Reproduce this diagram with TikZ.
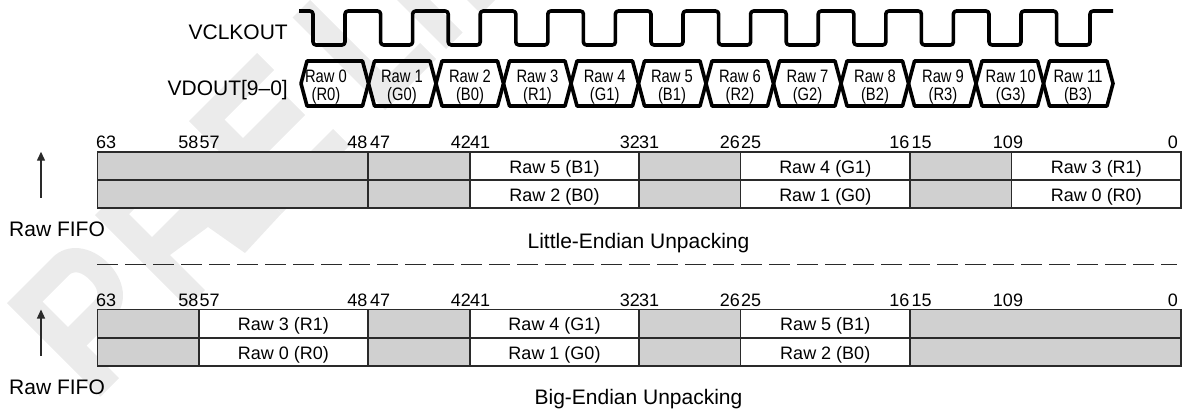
\documentclass[tikz,border=0pt]{standalone}
\usepackage{fontspec}
\setmainfont{Liberation Sans}
\newfontfamily\narrowsans[FakeStretch=0.82]{Liberation Sans}
\usetikzlibrary{arrows.meta}
\definecolor{wmgray}{HTML}{EBEBEB}
\definecolor{cellgray}{HTML}{D0D0D0}
\definecolor{rulegray}{HTML}{2A2A2A}
\tikzset{
  wm/.style={fill=wmgray,draw=none,even odd rule},
  cellbase/.style={draw=rulegray,line width=1.5pt,inner sep=0pt,outer sep=0pt,
    minimum height=#1,text height=14pt,text depth=0pt,font=\fontsize{18}{18}\selectfont},
  cellblank/.style={cellbase=#1,fill=white},
  cellfill/.style={cellbase=#1,fill=cellgray},
  bitlow/.style={anchor=base west,inner sep=0pt,font=\fontsize{18}{18}\selectfont},
  bithigh/.style={anchor=base east,inner sep=0pt,font=\fontsize{18}{18}\selectfont},
  bigtext/.style={inner sep=0pt,font=\fontsize{21}{21}\selectfont},
  buslabel/.style={inner sep=0pt,align=center,font=\narrowsans\fontsize{18}{17.5}\selectfont},
  signal/.style={line width=3.6pt,black,line join=round},
  fifoarrow/.style={draw=rulegray,line width=1.3pt,-{Triangle[length=9pt,width=8pt]}},
  sepline/.style={draw=rulegray,line width=1.3pt,dash pattern=on 21pt off 7pt},
}
\newcommand{\tcell}[7]{%
  \pgfmathsetmacro{\cw}{#3-#2}\pgfmathsetmacro{\cx}{(#3+#2)/2}\pgfmathsetmacro{\cy}{(#4+#5)/2}\pgfmathsetmacro{\ch}{#5-#4}%
  \node[#6=\ch pt,minimum width=\cw pt] (#1) at (\cx,\cy) {#7};}
\begin{document}
\begin{tikzpicture}[x=1pt,y=-1pt]
\useasboundingbox (0,0) rectangle (1182,410);
% watermark (s=x+y, t=x-y)
\begin{scope}[x={(0.5pt,-0.5pt)},y={(0.5pt,0.5pt)}]
  \fill[wm] (310,-296) -- (497,-296) -- (497,-259) -- (432,-259) -- (432,-205)
    .. controls (432,-175) and (405,-155) .. (371,-155)
    .. controls (337,-155) and (310,-175) .. (310,-205) -- cycle
    (344,-259) -- (395,-259) -- (395,-207)
    .. controls (395,-195) and (385,-190) .. (370,-190)
    .. controls (355,-190) and (344,-195) .. (344,-207) -- cycle;
  \fill[wm] (310,-120) -- (495,-120) -- (495,-85) -- (425,-85) -- (435,-19) -- (498,-8) -- (495,68)
    -- (440,68) -- (425,28) .. controls (390,40) and (365,40) .. (365,28)
    .. controls (365,0) and (340,-25) .. (310,-25) -- cycle
    (343,-85) -- (389,-85) -- (389,-20) .. controls (389,-10) and (380,-5) .. (366,-5)
    .. controls (352,-5) and (343,-10) .. (343,-20) -- cycle;
  \fill[wm] (310,68) -- (495,68) -- (495,204) -- (462,204) -- (462,105) -- (420,105) -- (420,190)
    -- (381,190) -- (381,105) -- (344,105) -- (344,204) -- (310,204) -- cycle;
  \fill[wm] (310,275) -- (495,275) -- (495,377) -- (463,377) -- (463,310) -- (310,310) -- cycle;
  \fill[wm] (397,397) -- (495,397) -- (495,430) -- (430,430) -- cycle;
  \fill[wm] (467,467) -- (495,467) -- (495,495) -- cycle;
\end{scope}
% clock
\draw[signal,rounded corners=3pt] (299,11)
  -- (313,11) -- (313,45) -- (345,45) -- (345,11)
  -- (380.6,11) -- (380.6,45) -- (412.6,45) -- (412.6,11)
  -- (448.2,11) -- (448.2,45) -- (480.2,45) -- (480.2,11)
  -- (515.8,11) -- (515.8,45) -- (547.8,45) -- (547.8,11)
  -- (583.4,11) -- (583.4,45) -- (615.4,45) -- (615.4,11)
  -- (651,11) -- (651,45) -- (683,45) -- (683,11)
  -- (718.6,11) -- (718.6,45) -- (750.6,45) -- (750.6,11)
  -- (786.2,11) -- (786.2,45) -- (818.2,45) -- (818.2,11)
  -- (853.8,11) -- (853.8,45) -- (885.8,45) -- (885.8,11)
  -- (921.4,11) -- (921.4,45) -- (953.4,45) -- (953.4,11)
  -- (989,11) -- (989,45) -- (1021,45) -- (1021,11)
  -- (1056.6,11) -- (1056.6,45) -- (1090,45) -- (1090,11) -- (1113,11);
\node[bigtext,anchor=base east] (vclk) at (288,39) {VCLKOUT};
\node[bigtext,anchor=base east] (vdout) at (288,95) {VDOUT[9–0]};
% data bus
\foreach \i/\a/\b/\lx/\la/\lb in {
  0/301/368.5/326/Raw 0/(R0), 1/368.5/436/402/Raw 1/(G0), 2/436/503.5/470/Raw 2/(B0),
  3/503.5/571/537.5/Raw 3/(R1), 4/571/638.5/604.7/Raw 4/(G1), 5/638.5/706/672/Raw 5/(B1),
  6/706/773.5/740/Raw 6/(R2), 7/773.5/841/807.5/Raw 7/(G2), 8/841/908.5/875/Raw 8/(B2),
  9/908.5/976/943/Raw 9/(R3), 10/976/1043.5/1010.7/Raw 10/(G3), 11/1043.5/1113/1078/Raw 11/(B3)}{
  \draw[signal] (\a,83.5) -- (\a+6,61) -- (\b-6,61) -- (\b,83.5) -- (\b-6,106) -- (\a+6,106) -- cycle;
  \node[buslabel] (bus\i) at (\lx,87) {\la\\\lb};
}
% table 1
\tcell{a1}{97.3}{368}{152}{180}{cellfill}{}
\tcell{a2}{368}{470}{152}{180}{cellfill}{}
\tcell{a3}{470}{639}{152}{180}{cellblank}{Raw 5 (B1)}
\tcell{a4}{639}{740.5}{152}{180}{cellfill}{}
\tcell{a5}{740.5}{910}{152}{180}{cellblank}{Raw 4 (G1)}
\tcell{a6}{910}{1011.5}{152}{180}{cellfill}{}
\tcell{a7}{1011.5}{1181}{152}{180}{cellblank}{Raw 3 (R1)}
\tcell{b1}{97.3}{368}{180}{208}{cellfill}{}
\tcell{b2}{368}{470}{180}{208}{cellfill}{}
\tcell{b3}{470}{639}{180}{208}{cellblank}{Raw 2 (B0)}
\tcell{b4}{639}{740.5}{180}{208}{cellfill}{}
\tcell{b5}{740.5}{910}{180}{208}{cellblank}{Raw 1 (G0)}
\tcell{b6}{910}{1011.5}{180}{208}{cellfill}{}
\tcell{b7}{1011.5}{1181}{180}{208}{cellblank}{Raw 0 (R0)}
% table 2
\tcell{c1}{97.3}{199}{309.5}{338}{cellfill}{}
\tcell{c2}{199}{368}{309.5}{338}{cellblank}{Raw 3 (R1)}
\tcell{c3}{368}{470}{309.5}{338}{cellfill}{}
\tcell{c4}{470}{639}{309.5}{338}{cellblank}{Raw 4 (G1)}
\tcell{c5}{639}{740.5}{309.5}{338}{cellfill}{}
\tcell{c6}{740.5}{910}{309.5}{338}{cellblank}{Raw 5 (B1)}
\tcell{c7}{910}{1181}{309.5}{338}{cellfill}{}
\tcell{d1}{97.3}{199}{338}{366}{cellfill}{}
\tcell{d2}{199}{368}{338}{366}{cellblank}{Raw 0 (R0)}
\tcell{d3}{368}{470}{338}{366}{cellfill}{}
\tcell{d4}{470}{639}{338}{366}{cellblank}{Raw 1 (G0)}
\tcell{d5}{639}{740.5}{338}{366}{cellfill}{}
\tcell{d6}{740.5}{910}{338}{366}{cellblank}{Raw 2 (B0)}
\tcell{d7}{910}{1181}{338}{366}{cellfill}{}
% bit numbers
\foreach \yy/\tag in {148/t,306.5/u}{
  \node[bitlow] (\tag63) at (96,\yy) {63};
  \node[bithigh] (\tag58) at (198.5,\yy) {58};
  \node[bitlow] (\tag57) at (199.5,\yy) {57};
  \node[bithigh] (\tag48) at (367.5,\yy) {48};
  \node[bitlow] (\tag47) at (370,\yy) {47};
  \node[bithigh] (\tag42) at (471,\yy) {42};
  \node[bitlow] (\tag41) at (470,\yy) {41};
  \node[bithigh] (\tag32) at (640,\yy) {32};
  \node[bitlow] (\tag31) at (639,\yy) {31};
  \node[bithigh] (\tag26) at (740,\yy) {26};
  \node[bitlow] (\tag25) at (741,\yy) {25};
  \node[bithigh] (\tag16) at (909.5,\yy) {16};
  \node[bitlow] (\tag15) at (911.5,\yy) {15};
  \node[bithigh] (\tag10) at (1013,\yy) {10};
  \node[bitlow] (\tag9) at (1013,\yy) {9};
  \node[bithigh] (\tag0) at (1178,\yy) {0};
}
% FIFO arrows
\coordinate (f1b) at (41,197.7); \coordinate (f1t) at (41,151.7);
\coordinate (f2b) at (41,356); \coordinate (f2t) at (41,309.5);
\draw[fifoarrow] (f1b) -- (f1t);
\draw[fifoarrow] (f2b) -- (f2t);
\node[bigtext,anchor=base west] (fifo1) at (9,236) {Raw FIFO};
\node[bigtext,anchor=base west] (fifo2) at (9,394.3) {Raw FIFO};
\node[bigtext,anchor=base] (little) at (638.5,248) {Little-Endian Unpacking};
\node[bigtext,anchor=base] (big) at (638.5,404.5) {Big-Endian Unpacking};
% separator
\coordinate (s1) at (97,264.5); \coordinate (s2) at (1177,264.5);
\draw[sepline] (s1) -- (s2);
\end{tikzpicture}
\end{document}
